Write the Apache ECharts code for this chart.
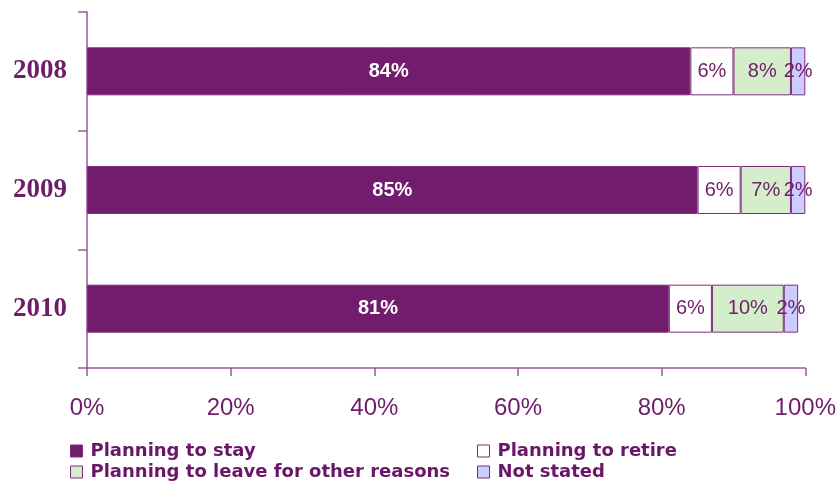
<!DOCTYPE html>
<html>
<head>
<meta charset="utf-8">
<script src="https://cdn.jsdelivr.net/npm/echarts@6/dist/echarts.min.js"></script>
<style>html,body{margin:0;padding:0;background:#fff}#c{width:839px;height:482px}</style>
</head>
<body>
<div id="c"></div>
<script>
// Survey responses by year (percent)
const years = ['2008', '2009', '2010'];
const stay = [84, 85, 81];
const retire = [6, 6, 6];
const leaveOther = [8, 7, 10];
const notStated = [2, 2, 2];
const xTicks = [0, 20, 40, 60, 80, 100];
const seriesNames = ['Planning to stay', 'Planning to retire', 'Planning to leave for other reasons', 'Not stated'];

const purple = '#721c6e';
const edge = '#7d2d79';
const axisColor = '#9a5a96';
const textPurple = '#6e1d69';
const legendPurple = '#6a1666';

function seg(name, data, color, labelStyle) {
  return {
    name: name,
    type: 'bar',
    stack: 'all',
    data: data,
    barWidth: 48,
    itemStyle: { color: color, borderColor: edge, borderWidth: 1 },
    label: Object.assign({
      show: true,
      position: 'inside',
      fontFamily: 'Liberation Sans, Arial, sans-serif',
      formatter: p => p.value + '%'
    }, labelStyle)
  };
}

// one legend entry per slot, laid out as two columns of two rows
function legendAt(name, left, top) {
  return {
    data: [name],
    left: left, top: top, padding: 0,
    itemWidth: 12, itemHeight: 12, itemGap: 0,
    icon: 'rect',
    itemStyle: { borderColor: edge, borderWidth: 1 },
    textStyle: {
      color: legendPurple,
      fontFamily: 'DejaVu Sans, sans-serif',
      fontWeight: 'bold',
      fontSize: 18,
      lineHeight: 20,
      padding: [0, 0, 0, 3]
    }
  };
}

const chart = echarts.init(document.getElementById('c'));
chart.setOption({
  animation: false,
  grid: { left: 87, right: 33, top: 12, bottom: 114 },
  xAxis: {
    type: 'value',
    min: 0, max: 100, interval: 20,
    splitLine: { show: false },
    axisLine: { show: true, lineStyle: { color: axisColor, width: 1.5 } },
    axisTick: { show: true, length: 8, lineStyle: { color: axisColor, width: 1.5 } },
    axisLabel: {
      margin: 28,
      color: textPurple,
      fontFamily: 'Liberation Sans, Arial, sans-serif',
      fontSize: 24,
      formatter: v => xTicks.includes(v) ? v + '%' : ''
    }
  },
  yAxis: {
    type: 'category',
    data: years,
    inverse: true,
    axisLine: { show: true, lineStyle: { color: axisColor, width: 1.5 } },
    axisTick: { show: true, length: 9, lineStyle: { color: axisColor, width: 1.5 } },
    axisLabel: {
      margin: 20,
      color: textPurple,
      fontFamily: 'Liberation Serif, Times New Roman, serif',
      fontWeight: 'bold',
      fontSize: 27
    }
  },
  legend: [
    legendAt(seriesNames[0], 70, 441),
    legendAt(seriesNames[2], 70, 462),
    legendAt(seriesNames[1], 477, 441),
    legendAt(seriesNames[3], 477, 462)
  ],
  series: [
    seg(seriesNames[0], stay, purple, { color: '#fff', fontWeight: 'bold', fontSize: 20 }),
    seg(seriesNames[1], retire, '#ffffff', { color: textPurple, fontSize: 20 }),
    seg(seriesNames[2], leaveOther, '#d4edcb', { color: textPurple, fontSize: 20 }),
    seg(seriesNames[3], notStated, '#ccccff', { color: textPurple, fontSize: 20 })
  ]
});
</script>
</body>
</html>
